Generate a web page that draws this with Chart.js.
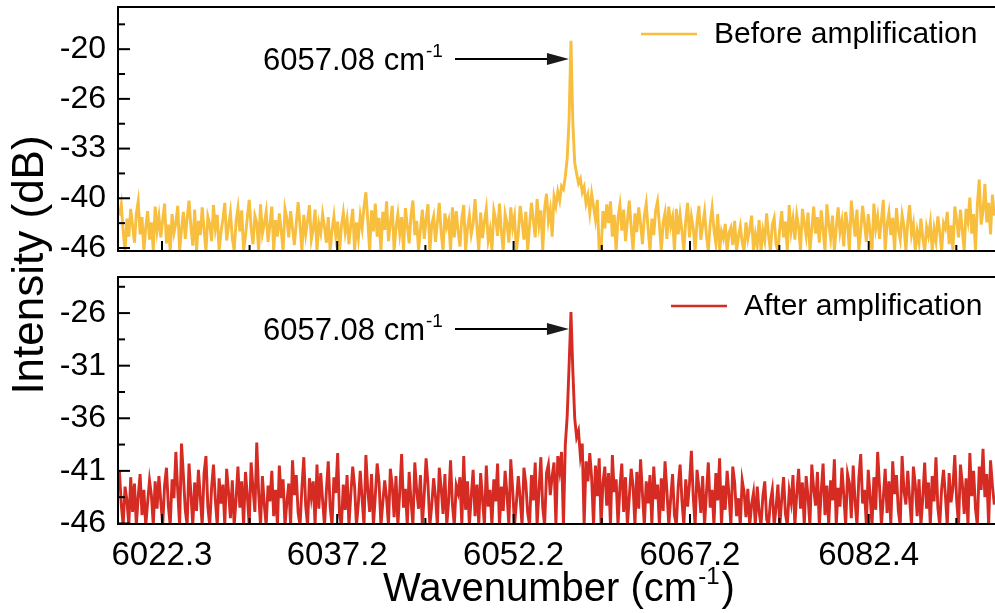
<!DOCTYPE html>
<html>
<head>
<meta charset="utf-8">
<script src="https://cdn.jsdelivr.net/npm/chart.js@4.4.1/dist/chart.umd.min.js"></script>
<style>
    html, body { margin: 0; padding: 0; background: #fff; overflow: hidden; }
    #wrap { position: relative; width: 995px; height: 613px; overflow: hidden; }
    #wrap canvas { position: absolute; left: 0; top: 0; }
</style>
</head>
<body>
<div id="wrap">
    <canvas id="topChart" width="1010" height="613"></canvas>
    <canvas id="bottomChart" width="1010" height="613"></canvas>
</div>
<script>
// spectrum sampling (cm-1)
const xStart = 6018.68;
const xStep = 0.16;
const peakWavenumber = 6057.08;

// tick labels
const xTickVals = [6022.3, 6037.2, 6052.2, 6067.2, 6082.4];
const topTickVals = [-46.1, -39.5, -32.9, -26.3, -19.7];
const topTickLabels = ['-46', '-40', '-33', '-26', '-20'];
const bottomTickVals = [-46, -41, -36, -31, -26];
const bottomTickLabels = ['-46', '-41', '-36', '-31', '-26'];

// Before amplification (dB)
const beforeAmp = [
    -41.8,-40.3,-43.9,-46.5,-42.2,-44.6,-40.9,-43.1,-45.4,-41.5,
    -39.9,-44.3,-42.0,-46.5,-43.4,-41.2,-45.0,-42.7,-46.5,-40.6,
    -43.8,-41.9,-44.7,-42.4,-40.2,-45.5,-43.0,-46.5,-41.6,-44.1,
    -42.8,-40.5,-46.5,-43.6,-41.3,-44.9,-42.1,-39.8,-43.3,-45.8,
    -41.0,-46.5,-42.5,-44.4,-40.7,-43.7,-46.5,-41.9,-42.9,-45.2,
    -40.4,-43.5,-41.7,-46.5,-44.0,-42.3,-40.1,-45.1,-43.2,-41.4,
    -44.8,-46.5,-42.6,-40.8,-43.9,-41.1,-46.5,-44.5,-42.0,-39.7,
    -43.4,-45.6,-41.8,-42.7,-46.5,-40.3,-44.2,-42.9,-41.3,-45.3,
    -43.0,-40.6,-46.5,-42.4,-44.6,-41.5,-43.8,-46.5,-40.9,-42.2,
    -44.7,-41.2,-43.5,-45.7,-42.8,-40.0,-43.1,-46.5,-41.7,-44.3,
    -42.5,-40.4,-45.0,-43.6,-41.0,-46.5,-42.9,-44.1,-41.6,-43.3,
    -45.4,-42.0,-46.5,-43.8,-41.9,-44.5,-42.6,-46.5,-43.2,-41.4,
    -44.0,-42.3,-45.6,-43.0,-40.9,-46.5,-42.7,-44.8,-41.8,-43.5,
    -40.6,-38.7,-42.4,-46.5,-41.1,-43.9,-40.2,-44.6,-42.1,-46.5,
    -41.3,-43.7,-39.9,-45.2,-42.8,-40.5,-46.5,-43.4,-41.6,-44.2,
    -42.0,-46.5,-40.8,-43.1,-45.5,-41.7,-39.8,-44.4,-42.5,-46.5,
    -43.6,-41.0,-44.9,-42.2,-40.3,-46.5,-43.0,-41.9,-45.3,-42.7,
    -40.1,-44.0,-46.5,-41.5,-43.3,-42.4,-46.5,-40.7,-44.7,-41.2,
    -43.8,-45.9,-42.1,-40.4,-46.5,-43.5,-41.8,-44.3,-42.9,-39.6,
    -43.2,-46.5,-41.4,-44.8,-42.6,-40.9,-45.1,-43.7,-46.5,-41.1,
    -42.3,-44.5,-40.2,-43.9,-46.5,-41.6,-42.8,-45.4,-40.7,-43.4,
    -41.9,-46.5,-44.2,-40.5,-42.6,-45.0,-41.3,-46.5,-43.1,-40.1,
    -42.4,-44.7,-39.6,-43.0,-41.1,-46.5,-40.8,-38.9,-42.5,-41.0,
    -44.6,-39.3,-40.5,-38.6,-39.8,-37.9,-38.3,-36.6,-34.2,-29.0,
    -18.6,-29.5,-34.8,-36.2,-37.5,-36.9,-38.7,-38.0,-40.2,-39.1,
    -41.4,-38.9,-40.6,-42.3,-39.7,-46.5,-46.5,-41.2,-43.5,-40.3,
    -42.8,-39.9,-44.6,-41.7,-46.5,-42.1,-40.4,-43.8,-41.0,-45.2,
    -42.5,-39.8,-43.3,-46.5,-41.5,-44.0,-40.7,-42.9,-45.6,-41.8,
    -40.2,-43.6,-46.5,-42.2,-44.4,-41.1,-39.9,-43.0,-46.5,-42.7,
    -41.4,-44.9,-40.6,-43.2,-42.0,-46.5,-40.9,-44.3,-41.7,-43.9,
    -46.5,-42.4,-40.1,-44.7,-41.9,-43.5,-46.5,-42.6,-40.5,-45.0,
    -43.1,-41.3,-44.5,-46.5,-42.8,-40.8,-43.7,-45.5,-41.6,-46.5,
    -43.9,-44.8,-42.9,-46.5,-44.1,-43.4,-45.7,-42.5,-46.5,-44.6,
    -43.2,-45.3,-46.5,-42.7,-44.9,-43.6,-41.8,-46.5,-44.3,-45.8,
    -42.4,-46.5,-43.8,-45.1,-41.5,-44.4,-46.5,-43.0,-42.1,-45.6,
    -46.5,-43.5,-41.2,-44.7,-42.6,-46.5,-40.4,-43.9,-42.2,-45.0,
    -41.7,-43.3,-46.5,-40.9,-42.8,-44.5,-41.4,-46.5,-43.6,-40.6,
    -44.2,-42.0,-45.4,-41.1,-43.7,-46.5,-40.3,-42.9,-44.8,-41.8,
    -46.5,-43.4,-40.7,-44.0,-42.5,-45.9,-41.3,-43.1,-46.5,-39.8,
    -42.3,-44.6,-41.0,-46.5,-43.8,-40.5,-42.7,-45.3,-41.6,-44.1,
    -46.5,-40.2,-43.5,-41.9,-44.9,-42.4,-39.7,-46.5,-43.0,-41.4,
    -44.4,-42.1,-46.5,-40.8,-43.7,-45.0,-41.7,-43.2,-46.5,-42.6,
    -40.4,-44.3,-42.9,-46.5,-43.9,-45.4,-42.2,-44.8,-46.5,-43.3,
    -44.5,-42.7,-46.5,-43.6,-45.2,-41.9,-44.0,-46.5,-42.8,-43.5,
    -41.3,-45.6,-43.1,-46.5,-40.6,-42.4,-44.7,-41.0,-43.8,-46.5,
    -40.9,-42.5,-39.4,-44.2,-41.6,-46.5,-40.3,-37.0,-43.0,-41.2,
    -37.6,-42.7,-40.1,-44.3,-39.0,-41.8
];

// After amplification (dB)
const afterAmp = [
    -41.0,-44.2,-46.2,-42.5,-43.8,-46.2,-41.6,-44.9,-42.2,-46.2,
    -43.4,-41.3,-45.2,-42.8,-46.2,-44.0,-41.9,-43.3,-46.2,-42.0,
    -44.6,-41.5,-43.9,-46.2,-42.4,-40.7,-44.3,-46.2,-41.8,-43.6,
    -39.2,-42.9,-46.2,-38.4,-41.4,-44.7,-46.2,-40.3,-43.2,-46.2,
    -42.1,-44.8,-40.9,-43.5,-46.2,-41.2,-39.6,-44.4,-46.2,-42.6,
    -40.4,-43.8,-46.2,-41.7,-44.1,-42.3,-46.2,-40.8,-43.0,-45.5,
    -41.9,-46.2,-43.7,-40.6,-44.5,-42.0,-46.2,-41.1,-43.4,-46.2,
    -40.2,-42.7,-44.9,-38.3,-43.1,-46.2,-41.5,-44.2,-46.2,-42.4,
    -43.9,-41.0,-45.3,-42.8,-46.2,-40.5,-43.6,-41.8,-46.2,-44.0,
    -42.2,-46.2,-40.0,-43.3,-41.4,-45.0,-46.2,-42.6,-39.7,-44.3,
    -46.2,-41.7,-43.5,-42.0,-46.2,-40.4,-44.6,-41.2,-43.8,-46.2,
    -42.9,-40.1,-44.4,-46.2,-41.6,-43.1,-39.3,-45.2,-46.2,-42.3,
    -44.7,-41.4,-46.2,-43.2,-40.6,-42.5,-46.2,-44.1,-41.0,-43.7,
    -46.2,-39.5,-42.8,-44.9,-41.3,-46.2,-43.4,-40.3,-42.1,-46.2,
    -44.0,-41.9,-43.6,-46.2,-40.8,-42.4,-45.4,-41.5,-46.2,-43.0,
    -39.4,-44.5,-42.7,-46.2,-41.1,-43.9,-46.2,-40.2,-42.9,-44.6,
    -41.4,-46.2,-43.3,-39.8,-42.2,-46.2,-44.3,-41.7,-43.5,-46.2,
    -40.7,-42.6,-45.1,-41.3,-46.2,-43.8,-40.0,-44.2,-46.2,-42.4,
    -43.1,-41.6,-46.2,-39.6,-44.7,-42.0,-46.2,-43.4,-40.9,-45.3,
    -42.3,-46.2,-41.2,-43.7,-46.2,-40.5,-44.4,-42.8,-46.2,-41.8,
    -43.9,-40.3,-46.2,-42.5,-44.8,-41.0,-43.2,-46.2,-39.9,-42.7,
    -46.2,-44.0,-41.5,-43.6,-46.2,-40.7,-42.2,-45.0,-46.2,-41.4,
    -43.8,-40.2,-46.2,-42.9,-39.7,-44.5,-46.2,-41.2,-40.4,-43.3,
    -41.5,-40.2,-46.2,-39.6,-41.0,-39.2,-46.2,-38.5,-35.8,-31.0,
    -25.9,-31.5,-36.0,-37.8,-37.2,-39.6,-38.4,-46.2,-40.1,-42.0,
    -39.3,-41.7,-46.2,-40.5,-43.4,-39.8,-46.2,-42.1,-40.6,-44.3,
    -41.2,-46.2,-39.5,-43.0,-41.8,-46.2,-42.6,-40.3,-44.9,-41.6,
    -46.2,-43.5,-40.8,-42.4,-46.2,-41.1,-44.6,-39.9,-43.2,-46.2,
    -42.0,-44.1,-41.4,-46.2,-40.6,-43.7,-42.3,-46.2,-41.7,-44.8,
    -40.1,-42.9,-46.2,-43.6,-41.3,-45.2,-46.2,-42.5,-40.4,-43.9,
    -46.2,-41.8,-44.4,-42.2,-39.1,-43.5,-46.2,-40.9,-42.6,-45.0,
    -41.5,-46.2,-43.1,-40.2,-44.5,-42.8,-46.2,-41.2,-43.8,-39.8,
    -46.2,-42.4,-44.7,-41.0,-43.3,-46.2,-40.6,-42.1,-45.3,-43.6,
    -46.2,-41.9,-43.0,-45.4,-42.7,-46.2,-44.2,-43.1,-46.2,-42.5,
    -44.9,-46.2,-43.4,-42.0,-45.6,-46.2,-43.9,-42.8,-46.2,-44.5,
    -42.3,-46.2,-43.7,-41.6,-45.1,-46.2,-42.9,-44.0,-41.4,-46.2,
    -43.2,-40.8,-44.6,-42.1,-46.2,-41.5,-43.5,-46.2,-40.4,-42.7,
    -44.3,-41.1,-46.2,-43.0,-40.3,-45.2,-42.4,-46.2,-41.9,-43.8,
    -39.9,-46.2,-42.6,-44.4,-40.7,-43.3,-46.2,-41.3,-42.2,-45.5,
    -40.5,-43.9,-46.2,-41.7,-39.4,-44.1,-42.8,-46.2,-40.9,-43.4,
    -46.2,-41.6,-44.7,-39.2,-42.5,-46.2,-43.6,-40.8,-45.0,-42.0,
    -46.2,-40.1,-43.2,-41.4,-44.8,-46.2,-39.6,-42.9,-44.2,-41.0,
    -43.7,-46.2,-40.6,-42.3,-45.3,-41.8,-46.2,-43.5,-40.2,-44.6,
    -42.1,-46.2,-41.5,-43.9,-39.7,-44.5,-46.2,-42.7,-40.9,-43.3,
    -46.2,-41.2,-44.0,-42.6,-39.5,-43.8,-46.2,-40.4,-42.2,-45.1,
    -41.7,-46.2,-39.3,-43.4,-41.0,-44.6,-46.2,-40.6,-42.8,-38.9,
    -43.5,-41.3,-46.2,-40.0,-42.4,-44.2
];

const FONT = '"Liberation Sans", Arial, Helvetica, sans-serif';
const YELLOW = '#F8BE3D';
const RED = '#D62B23';

function toPoints(values) {
    return values.map((v, i) => ({ x: +(xStart + i * xStep).toFixed(2), y: v }));
}

// text with a superscript tail, e.g. cm^-1
function drawSupText(ctx, x, y, base, sup, size, tail) {
    ctx.font = `${size}px ${FONT}`;
    ctx.textAlign = 'left';
    ctx.textBaseline = 'alphabetic';
    ctx.fillText(base, x, y);
    let cx = x + ctx.measureText(base).width;
    ctx.font = `${Math.round(size * 0.6)}px ${FONT}`;
    ctx.fillText(sup, cx + 1, y - size * 0.42);
    cx += ctx.measureText(sup).width + 3;
    if (tail) {
        ctx.font = `${size}px ${FONT}`;
        ctx.fillText(tail, cx, y);
    }
}

function line(ctx, x1, y1, x2, y2) {
    ctx.beginPath();
    ctx.moveTo(x1, y1);
    ctx.lineTo(x2, y2);
    ctx.stroke();
}

// frame, inward ticks, peak label and legend
const panelDecor = {
    id: 'panelDecor',
    afterDraw(chart, args, opts) {
        const { ctx, chartArea: a, scales: { x, y } } = chart;
        ctx.save();
        ctx.strokeStyle = '#000';
        ctx.lineWidth = 2;
        ctx.strokeRect(a.left, a.top, a.right - a.left, a.bottom - a.top);

        // y ticks (major + minor halfway)
        const yt = opts.yTicks;
        const yStep = yt[1] - yt[0];
        for (let v = yt[0] - yStep / 2; v <= y.max; v += yStep / 2) {
            if (v < y.min) continue;
            const py = y.getPixelForValue(v);
            const major = yt.some(t => Math.abs(t - v) < 1e-6);
            line(ctx, a.left, py, a.left + (major ? 12 : 7), py);
        }
        // x ticks
        const xs = xTickVals[1] - xTickVals[0];
        for (let i = 0; i < xTickVals.length; i++) {
            const px = x.getPixelForValue(xTickVals[i]);
            line(ctx, px, a.bottom, px, a.bottom - 10);
            const next = i < xTickVals.length - 1 ? xTickVals[i + 1] : xTickVals[i] + xs;
            const mx = x.getPixelForValue((xTickVals[i] + next) / 2);
            if (mx < a.right) line(ctx, mx, a.bottom, mx, a.bottom - 6);
        }

        // peak annotation with arrow
        ctx.fillStyle = '#000';
        drawSupText(ctx, 263, opts.labelY + 11, '6057.08 cm', '-1', 31);
        const tipX = x.getPixelForValue(peakWavenumber) - 2;
        ctx.lineWidth = 2;
        line(ctx, 455, opts.labelY, tipX - 18, opts.labelY);
        ctx.beginPath();
        ctx.moveTo(tipX, opts.labelY);
        ctx.lineTo(tipX - 22, opts.labelY - 6);
        ctx.lineTo(tipX - 22, opts.labelY + 6);
        ctx.closePath();
        ctx.fillStyle = '#1a1a1a';
        ctx.fill();

        // legend
        ctx.strokeStyle = opts.color;
        ctx.lineWidth = 2.5;
        line(ctx, opts.legendX, opts.legendY, opts.legendX + 56, opts.legendY);
        ctx.fillStyle = '#000';
        ctx.font = `30px ${FONT}`;
        ctx.textAlign = 'left';
        ctx.textBaseline = 'middle';
        ctx.fillText(opts.legendText, opts.legendX + 73, opts.legendY + 1);

        // shared axis titles on the lower panel
        if (opts.titles) {
            drawSupText(ctx, 383, 601, 'Wavenumber (cm', '-1', 40, ')');
            ctx.save();
            ctx.translate(31, 265);
            ctx.rotate(-Math.PI / 2);
            ctx.font = `44px ${FONT}`;
            ctx.textAlign = 'center';
            ctx.textBaseline = 'middle';
            ctx.fillText('Intensity (dB)', 0, 0);
            ctx.restore();
        }
        ctx.restore();
    }
};

function makePanel(canvasId, values, color, yMin, yMax, yVals, yLabels, pad, decor, showX) {
    const ctx = document.getElementById(canvasId).getContext('2d');
    return new Chart(ctx, {
        type: 'line',
        data: {
            datasets: [{
                data: toPoints(values),
                borderColor: color,
                borderWidth: 2.9,
                pointRadius: 0,
                tension: 0
            }]
        },
        options: {
            responsive: false,
            animation: false,
            devicePixelRatio: 1,
            layout: { padding: pad },
            plugins: {
                legend: { display: false },
                tooltip: { enabled: false },
                panelDecor: decor
            },
            scales: {
                x: {
                    type: 'linear',
                    display: showX,
                    min: 6018.56,
                    max: 6093.99,
                    afterBuildTicks: s => { s.ticks = xTickVals.map(v => ({ value: v })); },
                    afterFit: s => {
                        s.height = showX ? 89 : 0;
                        s.paddingLeft = 0;
                        s.paddingRight = 0;
                    },
                    grid: { display: false, drawTicks: false },
                    border: { display: false },
                    ticks: {
                        autoSkip: false,
                        maxRotation: 0,
                        padding: 12,
                        color: '#000',
                        font: { family: FONT, size: 33 },
                        callback: (v, i) => xTickVals[i].toFixed(1)
                    }
                },
                y: {
                    min: yMin,
                    max: yMax,
                    afterBuildTicks: s => { s.ticks = yVals.map(v => ({ value: v })); },
                    afterFit: s => {
                        s.width = 118;
                        s.paddingTop = 0;
                        s.paddingBottom = 0;
                    },
                    grid: { display: false, drawTicks: false },
                    border: { display: false },
                    ticks: {
                        autoSkip: false,
                        padding: 12,
                        color: '#000',
                        font: { family: FONT, size: 32 },
                        callback: (v, i) => yLabels[i]
                    }
                }
            }
        },
        plugins: [panelDecor]
    });
}

makePanel('topChart', beforeAmp, YELLOW, -46.5, -14.1, topTickVals, topTickLabels,
    { top: 7, bottom: 362, left: 0, right: 5 },
    { yTicks: topTickVals, labelY: 59, color: YELLOW, legendX: 641, legendY: 34, legendText: 'Before amplification' },
    false);

makePanel('bottomChart', afterAmp, RED, -46.05, -22.57, bottomTickVals, bottomTickLabels,
    { top: 277, bottom: 0, left: 0, right: 5 },
    { yTicks: bottomTickVals, labelY: 329, color: RED, legendX: 671, legendY: 306, legendText: 'After amplification', titles: true },
    true);
</script>
</body>
</html>
